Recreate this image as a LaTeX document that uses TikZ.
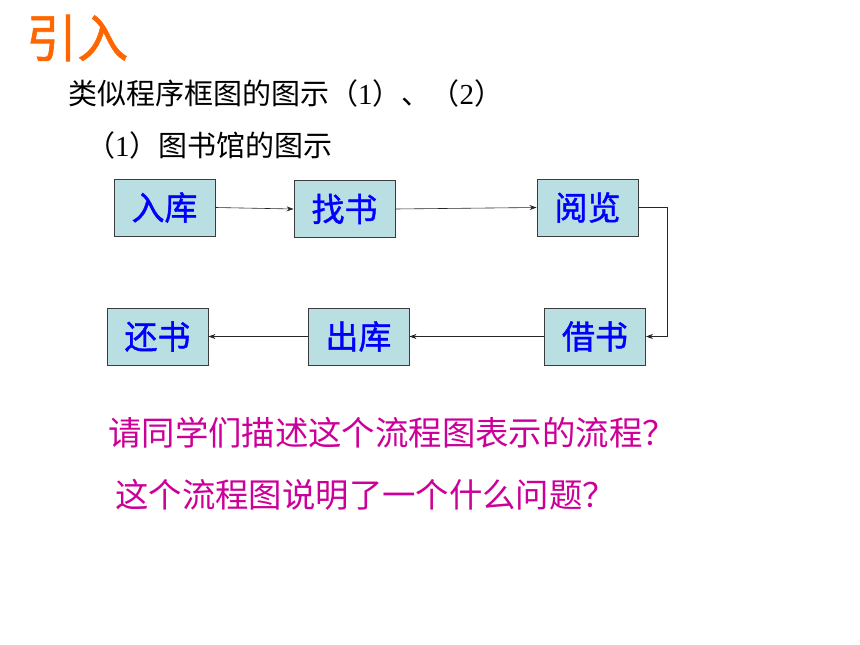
\documentclass[tikz,border=0pt]{standalone}
\usepackage{fontspec}
\setmainfont{Liberation Serif}
\newfontfamily\cjk{Noto Sans CJK SC}
\newfontfamily\cjkb[FakeBold=1.2]{Noto Sans CJK SC}
\usetikzlibrary{arrows.meta}
\definecolor{titleorange}{RGB}{255,102,0}
\definecolor{boxfill}{RGB}{185,223,227}
\definecolor{boxtext}{RGB}{0,0,255}
\definecolor{boxline}{RGB}{60,60,60}
\definecolor{qmagenta}{RGB}{204,0,153}
\newcommand{\dg}[1]{{\rmfamily #1}}
\tikzset{
  stepbox/.style={draw=boxline, line width=0.9pt, fill=boxfill, minimum width=101pt, minimum height=57pt, inner sep=0pt, text=boxtext, font=\cjkb\fontsize{33}{33}\selectfont},
  flow/.style={draw=black!85, line width=0.6pt, -{Stealth[length=7pt,width=5pt]}},
  plain/.style={anchor=west, inner sep=0pt},
}
\begin{document}
\begin{tikzpicture}[x=1pt,y=-1pt]
\useasboundingbox (0,0) rectangle (860,645);
\node[plain, text=titleorange, font=\cjkb\fontsize{51}{51}\selectfont] (title) at (26,38) {引入};
\node[plain, font=\cjk\fontsize{29}{29}\selectfont] (l1) at (68,93) {类似程序框图的图示（\dg{1}）、（\dg{2}）};
\node[plain, font=\cjk\fontsize{29}{29}\selectfont] (l2) at (86,145) {（\dg{1}）图书馆的图示};

\node[stepbox] (a) at (164.5,207.5) {入库};
\node[stepbox] (b) at (344.5,209) {找书};
\node[stepbox] (c) at (587.5,207.5) {阅览};
\node[stepbox] (d) at (595,336.5) {借书};
\node[stepbox] (e) at (358.5,336.5) {出库};
\node[stepbox] (f) at (157.5,336.5) {还书};

\coordinate (c1) at (667,207.5);
\coordinate (c2) at (667,336.5);
\draw[flow] (a.east) -- (b.west);
\draw[flow] (b.east) -- (c.west);
\draw[flow] (c.east) -- (c1) -- (c2) -- (d.east);
\draw[flow] (d.west) -- (e.east);
\draw[flow] (e.west) -- (f.east);

\node[plain, text=qmagenta, font=\cjk\fontsize{33.4}{33.4}\selectfont] (q1) at (108,433) {请同学们描述这个流程图表示的流程？};
\node[plain, text=qmagenta, font=\cjk\fontsize{33.4}{33.4}\selectfont] (q2) at (115,495) {这个流程图说明了一个什么问题？};
\end{tikzpicture}
\end{document}
